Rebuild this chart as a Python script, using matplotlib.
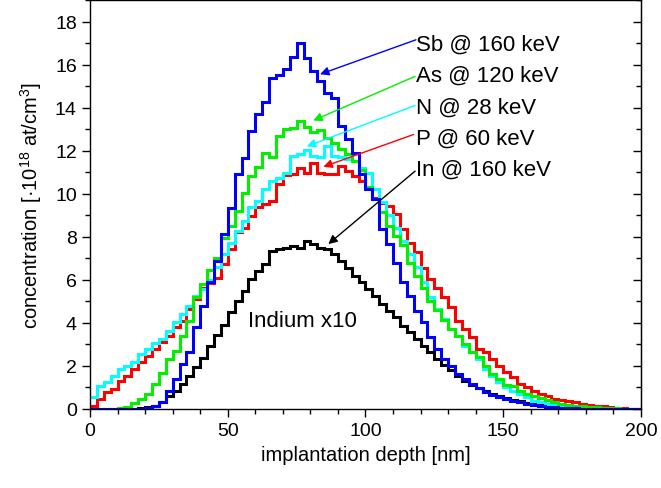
import numpy as np
import matplotlib.pyplot as plt
from matplotlib.ticker import MultipleLocator

plt.rcParams["font.family"] = ["Liberation Sans", "DejaVu Sans"]
plt.rcParams["mathtext.fontset"] = "custom"
plt.rcParams["mathtext.rm"] = "Liberation Sans"

# depth bins, 2.5 nm wide, 0..200 nm
edges = np.arange(0, 202.5, 2.5)

sb_160 = [0, 0, 0, 0, 0, 0, 0.01, 0.02, 0.05, 0.12,
          0.34, 0.85, 1.39, 2.09, 2.64, 3.82, 4.79, 5.89, 6.88, 8.15,
          9.33, 10.9, 11.65, 12.9, 13.69, 14.26, 15.36, 15.5, 15.81, 16.36,
          17.0, 16.3, 15.7, 15.23, 14.7, 14.46, 13.15, 12.53, 11.9, 10.9,
          10.2, 9.74, 8.35, 7.66, 6.8, 5.88, 5.26, 4.56, 4.02, 3.33,
          2.78, 2.32, 2.01, 1.62, 1.39, 1.16, 0.96, 0.8, 0.65, 0.54,
          0.46, 0.39, 0.31, 0.23, 0.18, 0.14, 0.1, 0.08, 0.06, 0.04,
          0.03, 0.02, 0.02, 0.01, 0.01, 0.01, 0.01, 0.01, 0.01, 0.01]

as_120 = [0, 0, 0.01, 0.02, 0.04, 0.1, 0.28, 0.46, 0.7, 1.16,
          1.65, 2.32, 2.7, 3.4, 4.1, 5.18, 5.8, 6.45, 7.0, 7.95,
          8.5, 9.2, 10.05, 10.8, 11.26, 11.9, 11.7, 12.7, 13.0, 13.05,
          13.4, 13.1, 12.85, 12.95, 12.6, 12.35, 12.1, 11.85, 11.5, 11.1,
          10.3, 9.75, 9.15, 8.5, 8.05, 7.6, 6.8, 6.2, 5.6, 5.0,
          4.6, 4.15, 3.7, 3.4, 3.0, 2.65, 2.4, 2.0, 1.62, 1.4,
          1.1, 1.08, 0.85, 0.7, 0.6, 0.5, 0.4, 0.31, 0.25, 0.19,
          0.15, 0.12, 0.09, 0.07, 0.05, 0.04, 0.03, 0.02, 0.01, 0.01]

n_28 = [0.55, 1.08, 1.24, 1.55, 1.86, 2.0, 2.17, 2.55, 2.78, 3.05,
        3.25, 3.63, 4.02, 4.41, 4.8, 5.26, 5.57, 6.0, 6.6, 7.2,
        7.73, 8.27, 8.74, 9.36, 9.67, 10.2, 10.6, 10.75, 10.98, 11.75,
        11.83, 12.05, 11.75, 11.7, 12.22, 11.75, 11.7, 11.6, 11.5, 11.2,
        10.95, 10.2, 9.6, 9.0, 8.4, 7.8, 7.2, 6.6, 5.9, 5.2,
        4.64, 4.18, 3.71, 3.4, 2.94, 2.63, 2.32, 1.86, 1.55, 1.24,
        1.0, 0.85, 0.7, 0.54, 0.39, 0.31, 0.24, 0.18, 0.13, 0.1,
        0.07, 0.05, 0.04, 0.03, 0.02, 0.01, 0.01, 0.01, 0.01, 0.01]

p_60 = [0.15, 0.46, 0.8, 0.93, 1.31, 1.55, 1.86, 2.17, 2.47, 2.78,
        3.09, 3.4, 3.79, 4.1, 4.64, 5.1, 5.6, 5.85, 6.1, 6.75,
        7.45, 8.2, 8.43, 8.97, 9.36, 9.51, 9.67, 10.44, 10.85, 10.9,
        11.2, 10.95, 11.45, 10.98, 10.9, 10.9, 11.3, 11.06, 10.83, 10.6,
        10.3, 9.82, 9.59, 9.43, 9.05, 8.35, 7.73, 7.27, 6.57, 6.03,
        5.6, 5.2, 4.72, 4.1, 3.71, 3.33, 2.78, 2.63, 2.32, 2.0,
        1.7, 1.47, 1.16, 1.0, 0.85, 0.7, 0.6, 0.46, 0.42, 0.39,
        0.31, 0.25, 0.19, 0.15, 0.12, 0.08, 0.05, 0.03, 0.02, 0.01]

in_160_x10 = [0, 0, 0, 0, 0, 0.01, 0.02, 0.04, 0.07, 0.15,
              0.34, 0.62, 0.85, 1.16, 1.55, 1.93, 2.35, 2.94, 3.43, 3.9,
              4.49, 5.03, 5.49, 6.03, 6.42, 6.73, 7.35, 7.42, 7.5, 7.58,
              7.5, 7.8, 7.66, 7.5, 7.42, 7.19, 6.88, 6.57, 6.19, 5.88,
              5.57, 5.26, 4.87, 4.56, 4.26, 3.87, 3.56, 3.25, 2.94, 2.63,
              2.3, 2.05, 1.8, 1.55, 1.31, 1.1, 0.96, 0.85, 0.7, 0.6,
              0.5, 0.42, 0.35, 0.29, 0.24, 0.2, 0.16, 0.13, 0.1, 0.08,
              0.06, 0.05, 0.04, 0.03, 0.02, 0.02, 0.01, 0.01, 0.01, 0]

series = [
    (in_160_x10, "black"),
    (p_60, "#ff0000"),
    (n_28, "#00ffff"),
    (as_120, "#00f000"),
    (sb_160, "#0000ff"),
]

# label text, arrow start (nm, conc), arrow tip (nm, conc), colour
labels = [
    ("Sb @ 160 keV", (118.3, 17.15), (83.5, 15.55), "#0000ff"),
    ("As @ 120 keV", (118.0, 15.45), (81.0, 13.4), "#00f000"),
    ("N @ 28 keV", (118.0, 14.1), (78.7, 12.2), "#00ffff"),
    ("P @ 60 keV", (117.4, 12.75), (84.7, 11.25), "#ff0000"),
    ("In @ 160 keV", (118.0, 11.05), (86.5, 7.66), "black"),
]
label_y = [16.94, 15.5, 14.0, 12.57, 11.14]

fig = plt.figure(figsize=(6.61, 4.89), dpi=100)
ax = fig.add_axes([0.1362, 0.1616, 0.8335, 0.8364])

for vals, col in series:
    ax.stairs(vals, edges, baseline=None, color=col, linewidth=2.2)

for (txt, start, tip, col), ty in zip(labels, label_y):
    ax.annotate("", xy=tip, xytext=start,
                arrowprops=dict(arrowstyle="-|>", color=col, lw=1.0,
                                mutation_scale=13, shrinkA=0, shrinkB=0))
    ax.text(118.3, ty, txt, fontsize=16, va="center", ha="left")

ax.text(57.3, 4.1, "Indium x10", fontsize=16, va="center", ha="left")

ax.set_xlim(0, 200)
ax.set_ylim(0, 19)
ax.xaxis.set_major_locator(MultipleLocator(50))
ax.xaxis.set_minor_locator(MultipleLocator(10))
ax.yaxis.set_major_locator(MultipleLocator(2))
ax.yaxis.set_minor_locator(MultipleLocator(1))
ax.tick_params(which="both", direction="out", labelsize=14, width=1)
ax.tick_params(which="major", length=6)
ax.tick_params(which="minor", length=3.5)
for s in ax.spines.values():
    s.set_linewidth(1.0)

# inward ticks on the right-hand frame
ry = ax.secondary_yaxis("right")
ry.yaxis.set_major_locator(MultipleLocator(2))
ry.yaxis.set_minor_locator(MultipleLocator(1))
ry.tick_params(which="both", direction="in", labelright=False, width=1)
ry.tick_params(which="major", length=6)
ry.tick_params(which="minor", length=3.5)

ax.set_xlabel("implantation depth [nm]", fontsize=14.5, labelpad=4)
ax.set_ylabel("concentration [·10$^{18}$ at/cm$^{3}$]", fontsize=14.5, labelpad=8)

fig.savefig("out.png", dpi=100)
